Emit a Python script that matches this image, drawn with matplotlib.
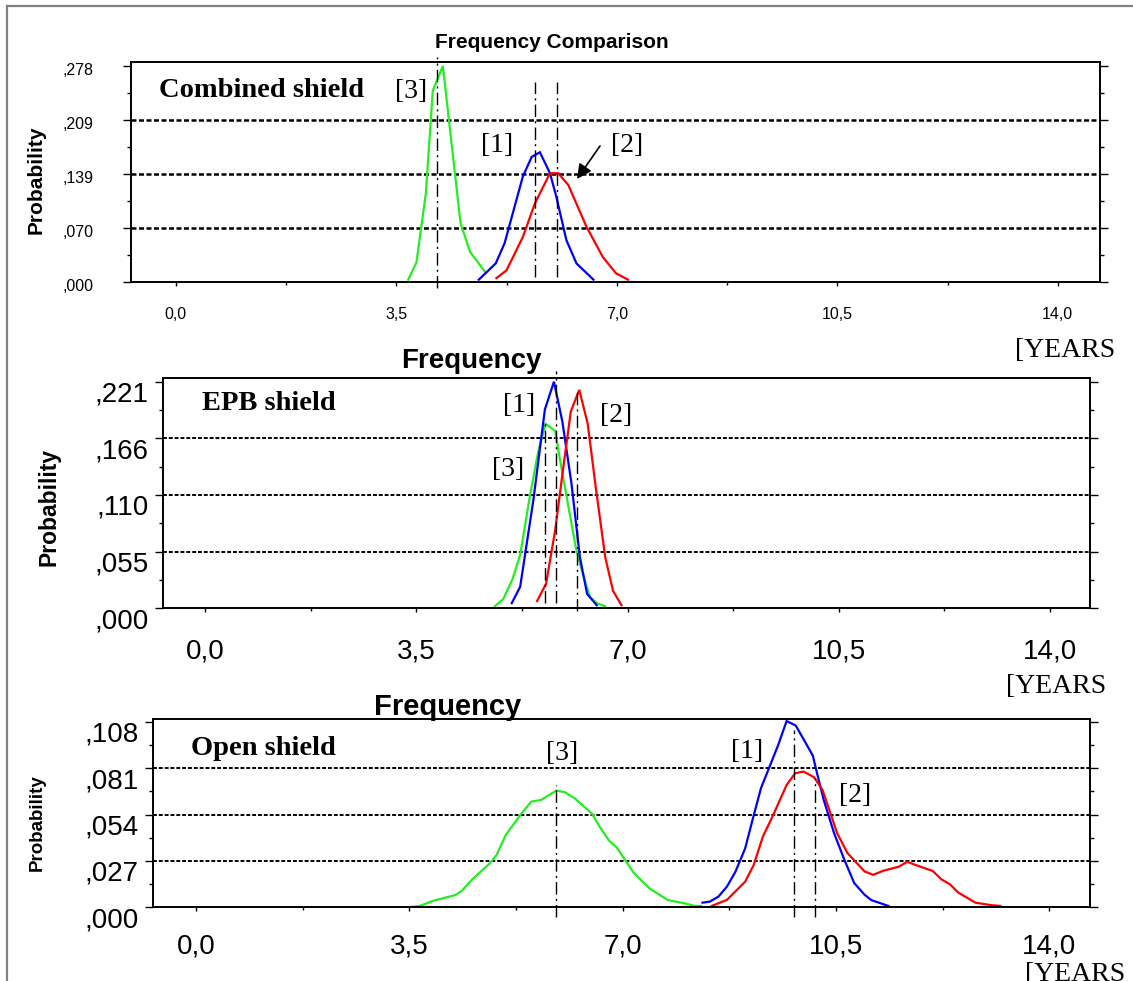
import numpy as np
import matplotlib
matplotlib.use("Agg")
import matplotlib.pyplot as plt
from matplotlib.lines import Line2D
from matplotlib.transforms import ScaledTranslation

W, H = 1133, 981
SANS = "Liberation Sans"
SERIF = "Liberation Serif"
GREEN, BLUE, RED = "#22ee22", "#0000ff", "#ff0000"

# x axis (years), shared by all three panels
x_ticks = [0.0, 3.5, 7.0, 10.5, 14.0]
x_ticklabels = ["0,0", "3,5", "7,0", "10,5", "14,0"]

# --- Combined shield ---
comb_yticks = [0.0, 0.0695, 0.139, 0.2085, 0.278]
comb_yticklabels = [",000", ",070", ",139", ",209", ",278"]
comb_x1 = [4.81, 5.08, 5.22, 5.51, 5.65, 5.78, 5.94, 6.04, 6.20, 6.36, 6.63]
comb_y1 = [0.003, 0.024, 0.050, 0.136, 0.161, 0.167, 0.140, 0.110, 0.054, 0.024, 0.003]
comb_x2 = [5.09, 5.25, 5.51, 5.70, 5.94, 6.07, 6.23, 6.52, 6.78, 6.99, 7.18]
comb_y2 = [0.005, 0.015, 0.058, 0.101, 0.140, 0.140, 0.125, 0.071, 0.032, 0.011, 0.003]
comb_x3 = [3.69, 3.82, 3.97, 4.08, 4.24, 4.52, 4.67, 4.92]
comb_y3 = [0.003, 0.025, 0.114, 0.246, 0.278, 0.076, 0.039, 0.012]
comb_means = [5.70, 6.05, 4.14]          # [1], [2], [3]
comb_mean_top = [0.258, 0.258, 0.290]
comb_mean_bottom = [0.006, 0.006, -0.008]

# --- EPB shield ---
epb_yticks = [0.0, 0.05525, 0.1105, 0.16575, 0.221]
epb_yticklabels = [",000", ",055", ",110", ",166", ",221"]
epb_x1 = [5.08, 5.22, 5.44, 5.63, 5.78, 5.92, 6.07, 6.21, 6.33, 6.49]
epb_y1 = [0.005, 0.021, 0.106, 0.194, 0.221, 0.182, 0.122, 0.050, 0.014, 0.003]
epb_x2 = [5.50, 5.65, 5.80, 5.93, 6.06, 6.20, 6.34, 6.48, 6.63, 6.76, 6.90]
epb_y2 = [0.007, 0.024, 0.076, 0.135, 0.192, 0.213, 0.180, 0.115, 0.050, 0.017, 0.003]
epb_x3 = [4.80, 4.94, 5.09, 5.22, 5.38, 5.52, 5.64, 5.80, 5.88, 5.99, 6.14,
          6.27, 6.38, 6.49, 6.63]
epb_y3 = [0.002, 0.009, 0.028, 0.052, 0.109, 0.153, 0.180, 0.173, 0.145, 0.109,
          0.060, 0.031, 0.011, 0.005, 0.002]
epb_means = [5.82, 6.17, 5.64]
epb_mean_top = [0.231, 0.211, 0.181]
epb_mean_bottom = [0.005, -0.003, 0.005]

# --- Open shield ---
open_yticks = [0.0, 0.027, 0.054, 0.081, 0.108]
open_yticklabels = [",000", ",027", ",054", ",081", ",108"]
open_x1 = [8.31, 8.43, 8.57, 8.71, 8.85, 9.01, 9.13, 9.27, 9.41, 9.55, 9.69,
           9.84, 9.98, 10.12, 10.19, 10.30, 10.47, 10.64, 10.80, 10.97, 11.08, 11.36]
open_y1 = [0.0027, 0.0033, 0.0062, 0.0120, 0.0207, 0.0343, 0.0508, 0.0694, 0.0818,
           0.0943, 0.1084, 0.1058, 0.0971, 0.0883, 0.0780, 0.0624, 0.0431, 0.0275,
           0.0141, 0.0073, 0.0042, 0.0008]
open_x2 = [8.46, 8.71, 9.01, 9.15, 9.30, 9.47, 9.69, 9.83, 9.97, 10.14, 10.28,
           10.41, 10.52, 10.69, 10.97, 11.11, 11.28, 11.53, 11.67, 11.81, 12.09,
           12.23, 12.37, 12.51, 12.79, 13.04, 13.20]
open_y2 = [0.0008, 0.0043, 0.0149, 0.0246, 0.0411, 0.0537, 0.0712, 0.0780, 0.0790,
           0.0757, 0.0683, 0.0547, 0.0431, 0.0315, 0.0209, 0.0189, 0.0213, 0.0236,
           0.0265, 0.0246, 0.0211, 0.0163, 0.0134, 0.0085, 0.0027, 0.0013, 0.0008]
open_x3 = [3.54, 3.67, 3.89, 4.25, 4.36, 4.52, 4.82, 4.93, 5.08, 5.34, 5.50, 5.66,
           5.91, 6.05, 6.21, 6.49, 6.62, 6.78, 6.90, 7.18, 7.44, 7.74, 8.02, 8.18, 8.29]
open_y3 = [0.0003, 0.0008, 0.0038, 0.0071, 0.0096, 0.0159, 0.0256, 0.0305, 0.0421,
           0.0547, 0.0615, 0.0625, 0.0679, 0.0670, 0.0635, 0.0547, 0.0470, 0.0386,
           0.0349, 0.0201, 0.0110, 0.0042, 0.0023, 0.0008, 0.0008]
open_means = [9.81, 10.16, 5.91]
open_mean_top = [0.103, 0.075, 0.071]
open_mean_bottom = [-0.0057, -0.0057, -0.0055]


def fx(px):
    return px / W


def fy(py):
    return 1 - py / H


def make_panel(fig, box, ylim, yticks, ylabels, curves, means, tops, bottoms,
               tick_size, ylab_pad, xlab_pad, ylab_shift, grid_lw):
    left, top, right, bottom = box
    ax = fig.add_axes([fx(left), fy(bottom), fx(right - left), (bottom - top) / H])
    ax.set_xlim(-0.71, 14.67)
    ax.set_ylim(*ylim)

    for x, y, c in curves:
        ax.plot(x, y, color=c, lw=1.6, solid_joinstyle="miter", clip_on=False)

    # dotted reference lines on the inner major ticks
    for v in yticks[1:-1]:
        ax.axhline(v, color="black", lw=grid_lw, linestyle=(0, (2, 1)), zorder=1)

    # dash-dot lines at the means
    for m, t, b in zip(means, tops, bottoms):
        ax.plot([m, m], [b, t], color="black", lw=1.0,
                linestyle=(0, (9, 3, 1.5, 3)), clip_on=False, zorder=3)

    ax.set_xticks(x_ticks, x_ticklabels)
    ax.set_xticks(np.arange(1.75, 14.0, 3.5), minor=True)
    ax.set_yticks(yticks, ylabels)
    mids = [(a + b) / 2 for a, b in zip(yticks[:-1], yticks[1:])]
    ax.set_yticks(mids, minor=True)

    for lab in ax.get_xticklabels() + ax.get_yticklabels():
        lab.set_fontfamily(SANS)
        lab.set_fontsize(tick_size)
    ax.tick_params(axis="x", which="major", direction="out", length=3, width=1,
                   pad=xlab_pad)
    ax.tick_params(axis="x", which="minor", direction="out", length=2, width=1)
    ax.tick_params(axis="y", which="major", direction="out", length=6, width=1,
                   left=True, right=True, pad=ylab_pad)
    ax.tick_params(axis="y", which="minor", direction="out", length=3, width=1,
                   left=True, right=True)
    shift = ScaledTranslation(0, -ylab_shift / 100, fig.dpi_scale_trans)
    for lab in ax.get_yticklabels():
        lab.set_transform(lab.get_transform() + shift)

    for s in ax.spines.values():
        s.set_linewidth(1.4)
    return ax


fig = plt.figure(figsize=(W / 100, H / 100), dpi=100)

# outer frame
fig.add_artist(Line2D([fx(7), fx(7)], [0, fy(6)], color="#808080", lw=1.6,
                      transform=fig.transFigure))
fig.add_artist(Line2D([fx(7), 1], [fy(6), fy(6)], color="#808080", lw=1.6,
                      transform=fig.transFigure))

ax1 = make_panel(fig, (131, 62.5, 1100, 282), (0, 0.2825), comb_yticks, comb_yticklabels,
                 [(comb_x3, comb_y3, GREEN), (comb_x1, comb_y1, BLUE), (comb_x2, comb_y2, RED)],
                 comb_means, comb_mean_top, comb_mean_bottom,
                 tick_size=11.5, ylab_pad=21, xlab_pad=15, ylab_shift=3, grid_lw=1.8)
ax2 = make_panel(fig, (162.6, 378.3, 1090, 608.3), (0, 0.2243), epb_yticks, epb_yticklabels,
                 [(epb_x3, epb_y3, GREEN), (epb_x1, epb_y1, BLUE), (epb_x2, epb_y2, RED)],
                 epb_means, epb_mean_top, epb_mean_bottom,
                 tick_size=20, ylab_pad=4, xlab_pad=19, ylab_shift=10, grid_lw=1.4)
ax3 = make_panel(fig, (153, 719, 1090, 907.3), (0, 0.1096), open_yticks, open_yticklabels,
                 [(open_x3, open_y3, GREEN), (open_x1, open_y1, BLUE), (open_x2, open_y2, RED)],
                 open_means, open_mean_top, open_mean_bottom,
                 tick_size=20, ylab_pad=4.5, xlab_pad=16, ylab_shift=10, grid_lw=1.4)

# titles
fig.text(fx(552), fy(42), "Frequency Comparison", family=SANS, weight="bold",
         fontsize=15, ha="center", va="center")
fig.text(fx(471.5), fy(361.5), "Frequency", family=SANS, weight="bold",
         fontsize=20, ha="center", va="center")
fig.text(fx(448), fy(707), "Frequency", family=SANS, weight="bold",
         fontsize=21, ha="center", va="center")

# axis titles
for x, y, size in [(36, 180, 15), (48.5, 507, 16.5), (37.5, 823, 13.5)]:
    fig.text(fx(x), fy(y), "Probability", family=SANS, weight="bold", fontsize=size,
             rotation=90, ha="center", va="center")
for x, y in [(1115, 357), (1106, 693), (1125, 981)]:
    fig.text(fx(x), fy(y), "[YEARS", family=SERIF, fontsize=20, ha="right",
             va="baseline")

# panel names
for x, y, name in [(159, 97, "Combined shield"), (202, 410, "EPB shield"),
                   (191, 755, "Open shield")]:
    fig.text(fx(x), fy(y), name, family=SERIF, weight="bold", fontsize=20.5,
             ha="left", va="baseline")

# curve markers
for x, y, s in [(411, 92, "[3]"), (497.5, 146, "[1]"), (627.5, 146, "[2]"),
                (519, 405, "[1]"), (616.5, 416, "[2]"), (508, 470, "[3]"),
                (562, 753, "[3]"), (747, 752, "[1]"), (855.5, 795, "[2]")]:
    fig.text(fx(x), fy(y), s, family=SERIF, fontsize=20, ha="center", va="center")

ax1.annotate("", xy=(fx(577), fy(179)), xytext=(fx(600), fy(146)),
             xycoords="figure fraction", textcoords="figure fraction",
             arrowprops=dict(arrowstyle="-|>", color="black", lw=1.2,
                             mutation_scale=22, shrinkA=0, shrinkB=0))

fig.savefig("out.png", dpi=100)
